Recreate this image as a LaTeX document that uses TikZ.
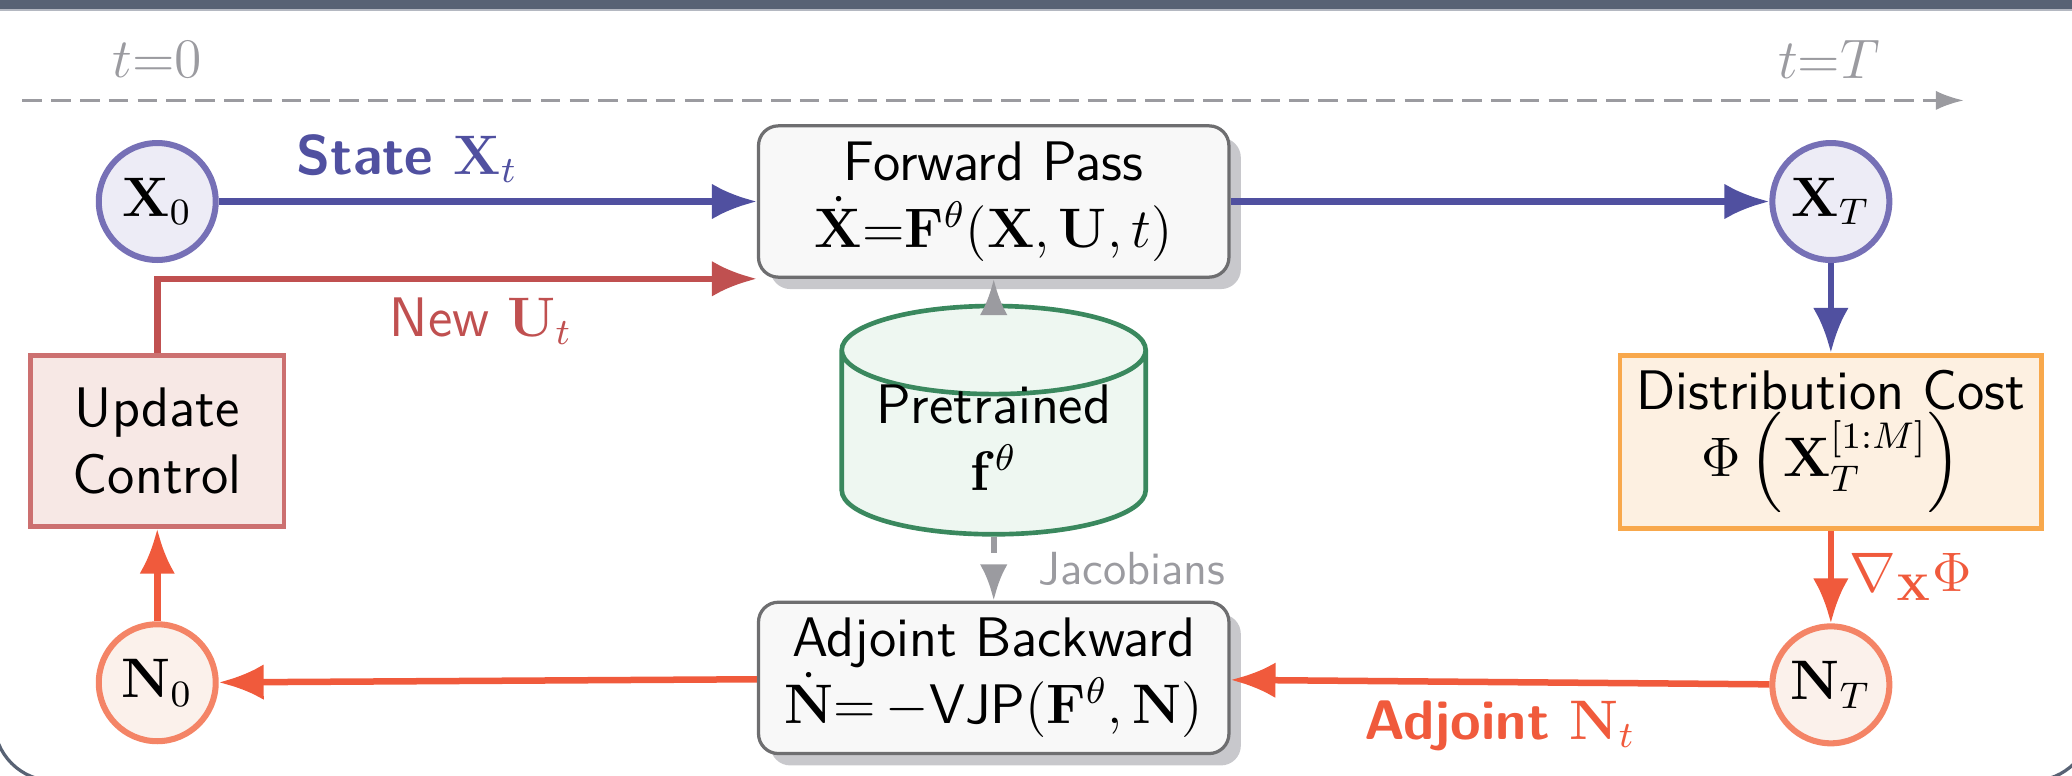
\documentclass[tikz,border=0pt]{standalone}
\usepackage{amsmath}
\usepackage{amssymb}
\usetikzlibrary{positioning,arrows.meta,shapes.geometric,shadows}
\definecolor{stateblue}{RGB}{80,80,160}
\definecolor{stateline}{RGB}{118,112,182}
\definecolor{statefill}{RGB}{237,236,246}
\definecolor{ctrlred}{RGB}{192,80,80}
\definecolor{ctrlline}{RGB}{204,112,112}
\definecolor{ctrlfill}{RGB}{247,232,229}
\definecolor{adjred}{RGB}{240,90,60}
\definecolor{adjline}{RGB}{244,132,102}
\definecolor{adjfill}{RGB}{251,241,235}
\definecolor{costline}{RGB}{248,168,76}
\definecolor{costfill}{RGB}{253,240,225}
\definecolor{netgreen}{RGB}{58,136,94}
\definecolor{netfill}{RGB}{238,247,241}
\definecolor{tickgray}{RGB}{155,155,160}
\definecolor{boxline}{RGB}{110,110,112}
\definecolor{boxfill}{RGB}{248,248,248}
\definecolor{boxshade}{RGB}{200,200,204}
\definecolor{framegray}{RGB}{88,98,116}
\tikzset{
  statecirc/.style={circle,draw=stateline,fill=statefill,line width=1.3pt,minimum size=8.85mm,inner sep=0pt},
  adjcirc/.style={circle,draw=adjline,fill=adjfill,line width=1.3pt,minimum size=8.85mm,inner sep=0pt},
  solverbox/.style={rectangle,rounded corners=1.5mm,draw=boxline,fill=boxfill,line width=0.7pt,
    minimum width=3.56cm,minimum height=1.145cm,align=center,
    drop shadow={shadow xshift=0.9mm,shadow yshift=-0.9mm,fill=boxshade,opacity=1}},
  ctrlbox/.style={rectangle,draw=ctrlline,fill=ctrlfill,line width=1pt,minimum width=1.92cm,minimum height=1.296cm,align=center},
  costbox/.style={rectangle,draw=costline,fill=costfill,line width=1pt,minimum width=3.19cm,minimum height=1.296cm,align=center},
  netcyl/.style={cylinder,shape border rotate=90,aspect=0.375,draw=netgreen,fill=netfill,line width=1pt,
    inner sep=0pt,minimum width=2.3cm,text height=0.71cm,text depth=-0.32cm,align=center},
  fwdarrow/.style={stateblue,line width=1.4pt,-{Latex[length=3.4mm,width=2.7mm]}},
  ctrlarrow/.style={ctrlred,line width=1.4pt,-{Latex[length=3.4mm,width=2.7mm]}},
  adjarrow/.style={adjred,line width=1.4pt,-{Latex[length=3.4mm,width=2.7mm]}},
  grayarrow/.style={tickgray,line width=1.2pt,-{Latex[length=2.75mm,width=2.1mm]}},
  timeaxis/.style={tickgray,line width=0.6pt,dash pattern=on 4.2pt off 2pt,-{Latex[length=2.1mm,width=1.45mm]}},
  tick/.style={text=tickgray},
  boldlabel/.style={font=\sffamily\bfseries\fontsize{12}{14.4}\selectfont}
}

\begin{document}
\begin{tikzpicture}[font=\sffamily\fontsize{12}{14.4}\selectfont]
  \useasboundingbox (0,0) rectangle (15.68,-5.87);
  % frame round the figure
  \fill[framegray] (0,0) rectangle (15.68,-0.07);
  \draw[framegray!45,line width=0.4pt] (0,-0.075) -- (15.68,-0.075);
  \draw[framegray,line width=0.7pt,rounded corners=4.54mm] (-0.045,-3) -- (-0.045,-5.91) -- (15.83,-5.91) -- (15.83,-3);

  % time axis
  \node[tick] (t0) at (1.19,-0.45) {$t{=}0$};
  \node[tick] (tT) at (13.84,-0.45) {$t{=}T$};
  \coordinate (axA) at (0.17,-0.76);
  \coordinate (axB) at (14.86,-0.76);
  \draw[timeaxis] (axA) -- (axB);

  \node[statecirc] (x0) at (1.19,-1.525) {$\mathbf{X}_0$};
  \node[solverbox] (fwd) at (7.52,-1.525) {Forward Pass\\$\dot{\mathbf{X}}{=}\mathbf{F}^\theta(\mathbf{X},\mathbf{U},t)$};
  \node[statecirc] (xT) at (13.855,-1.525) {$\mathbf{X}_T$};
  \node[ctrlbox, below=6.8mm of x0] (upd) {Update\\Control};
  \node[costbox, below=6.8mm of xT] (cost) {Distribution Cost\\$\Phi\left(\mathbf{X}_T^{[1:M]}\right)$};
  \node[adjcirc, below=7mm of upd] (n0) {$\mathbf{N}_0$};
  \node[adjcirc, below=7mm of cost] (nT) {$\mathbf{N}_T$};
  \node[netcyl, anchor=base] (net) at (7.52,-3.71) {Pretrained\\$\mathbf{f}^\theta$};
  \node[solverbox] (adj) at (7.52,-5.13) {Adjoint Backward\\$\dot{\mathbf{N}}{=}\,{-}\textsf{VJP}(\mathbf{F}^\theta,\mathbf{N})$};

  \draw[fwdarrow] (x0) -- node[pos=0.35,above,boldlabel,text=stateblue] {State $\mathbf{X}_t$} (fwd);
  \draw[fwdarrow] (fwd) -- (xT);
  \draw[fwdarrow] (xT) -- (cost);
  \draw[adjarrow] (cost) -- node[right,text=adjred] {$\nabla_{\mathbf{X}}\Phi$} (nT);
  \draw[adjarrow] (nT) -- node[below,boldlabel,text=adjred] {Adjoint $\mathbf{N}_t$} (adj);
  \draw[adjarrow] (adj) -- (n0);
  \draw[adjarrow] (n0) -- (upd);
  \draw[ctrlarrow] (upd.north) |- node[pos=0.77,below,text=ctrlred] {New $\mathbf{U}_t$} (fwd.south west);
  \draw[grayarrow] (net) -- (fwd);
  \draw[grayarrow,dash pattern=on 3.5pt off 3.5pt] (net) -- node[right=2mm,text=tickgray,font=\sffamily\fontsize{10}{12}\selectfont] {Jacobians} (adj);
\end{tikzpicture}
\end{document}
